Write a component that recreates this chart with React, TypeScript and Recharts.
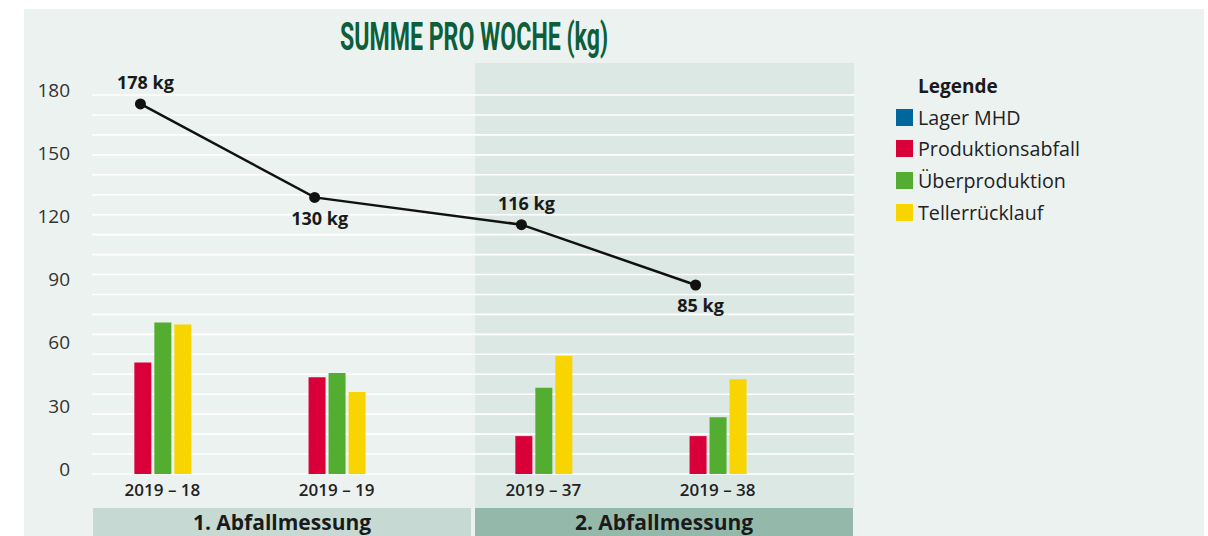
import { ComposedChart, Bar, Line, XAxis, YAxis, CartesianGrid, LabelList } from 'recharts';

// weeks of the two waste measurements
const weeks = ['2019 – 18', '2019 – 19', '2019 – 37', '2019 – 38'];
const measurementOf = [1, 1, 2, 2];
const measurementLabels = ['1. Abfallmessung', '2. Abfallmessung'];

// kg per category (Lager MHD has no values in this chart)
const lagerMhd = [null, null, null, null];
const produktionsabfall = [53, 46, 18, 18];
const ueberproduktion = [72, 48, 41, 27];
const tellerruecklauf = [71, 39, 56, 45];

// weekly total (line)
const totals = [178, 130, 116, 85];
const totalLabelSide = ['above', 'below', 'above', 'below'];

const yTicks = [0, 30, 60, 90, 120, 150, 180];
const GRID_STEPS = 19;

const COLORS = {
  lager: '#00679c',
  prod: '#d9003a',
  ueber: '#52ad31',
  teller: '#f8d400',
};

const series = [
  { key: 'lager', name: 'Lager MHD', color: COLORS.lager },
  { key: 'prod', name: 'Produktionsabfall', color: COLORS.prod },
  { key: 'ueber', name: 'Überproduktion', color: COLORS.ueber },
  { key: 'teller', name: 'Tellerrücklauf', color: COLORS.teller },
];

// layout of the x scale: each measurement gets the same span, in units of one week step
const SPAN = 2.187;
const LEAD = 0.347;
const LINE_SHIFT = 0.069;
const X_DOMAIN: [number, number] = [-LEAD, 2 * SPAN - LEAD];

const data = weeks.map((w, i) => {
  const m = measurementOf[i];
  const inMeasurement = measurementOf.slice(0, i).filter((v) => v === m).length;
  return {
    week: w,
    x: (m - 1) * SPAN + inMeasurement,
    lager: lagerMhd[i],
    prod: produktionsabfall[i],
    ueber: ueberproduktion[i],
    teller: tellerruecklauf[i],
    total: totals[i],
  };
});

const FONT = '"Open Sans", sans-serif';

const YTick = ({ x, y, payload }: any) => (
  <text x={x} y={y - 5} dy="0.355em" textAnchor="end" fontSize={19} fill="#333" fontFamily={FONT}>
    {payload.value}
  </text>
);

const XTick = ({ x, y, payload }: any) => {
  const idx = data.findIndex((d) => Math.abs(d.x - payload.value) < 1e-6);
  return (
    <text x={x + 10} y={y} dy={14} textAnchor="middle" fontSize={17} fontWeight={600} fill="#222" fontFamily={FONT}>
      {idx >= 0 ? weeks[idx] : ''}
    </text>
  );
};

const TotalLabel = ({ x, y, value, index }: any) => {
  const above = totalLabelSide[index] === 'above';
  return (
    <text
      x={x + 5}
      y={above ? y - 21 : y + 21}
      dy="0.355em"
      textAnchor="middle"
      fontSize={18}
      fontWeight={700}
      fill="#1a1a1a"
      fontFamily={FONT}
    >
      {value} kg
    </text>
  );
};

// evenly spaced white rules across the plot, like the original artwork
const gridRows = ({ offset }: any) =>
  Array.from({ length: GRID_STEPS + 1 }, (_, i) => offset.top + (offset.height * i) / GRID_STEPS);

export default function App() {
  return (
    <div style={{ position: 'absolute', left: 0, top: 0, width: 1208, height: 536, background: '#fff', overflow: 'hidden', fontFamily: FONT }}>
      {/* panel background */}
      <div style={{ position: 'absolute', left: 24, top: 9, width: 1180, height: 527, background: '#ecf2f0' }} />
      {/* second measurement shading */}
      <div style={{ position: 'absolute', left: 475, top: 63, width: 379, height: 445, background: '#dce8e4' }} />

      {/* measurement bands */}
      {measurementLabels.map((label, i) => (
        <div
          key={label}
          style={{
            position: 'absolute',
            left: i === 0 ? 93 : 475,
            top: 508,
            width: 378,
            height: 28,
            background: i === 0 ? '#c6dad3' : '#94b9ab',
            display: 'flex',
            alignItems: 'center',
            justifyContent: 'center',
            fontSize: 21,
            fontWeight: 700,
            color: '#1a1a1a',
          }}
        >
          {label}
        </div>
      ))}

      {/* title */}
      <svg style={{ position: 'absolute', left: 0, top: 0 }} width={700} height={62}>
        <text
          x={340}
          y={50}
          textLength={268}
          lengthAdjust="spacingAndGlyphs"
          fontSize={39}
          fontWeight={700}
          fill="#0d5e3b"
          fontFamily="Roboto, sans-serif"
        >
          SUMME PRO WOCHE (kg)
        </text>
      </svg>

      <div style={{ position: 'absolute', left: 0, top: 0 }}>
        <ComposedChart
          width={880}
          height={536}
          data={data}
          margin={{ top: 95, right: 26, bottom: 0, left: 0 }}
          barGap={3}
        >
          <CartesianGrid
            vertical={false}
            stroke="#ffffff"
            strokeWidth={1.6}
            horizontalCoordinatesGenerator={gridRows}
          />
          <XAxis
            xAxisId="main"
            type="number"
            dataKey="x"
            domain={X_DOMAIN}
            ticks={data.map((d) => d.x)}
            axisLine={false}
            tickLine={false}
            tick={<XTick />}
            height={62}
          />
          <XAxis
            xAxisId="line"
            type="number"
            dataKey="x"
            domain={[X_DOMAIN[0] + LINE_SHIFT, X_DOMAIN[1] + LINE_SHIFT]}
            height={0}
            orientation="top"
            hide
          />
          <YAxis
            yAxisId="left"
            domain={[0, 180]}
            ticks={yTicks}
            axisLine={false}
            tickLine={false}
            tickMargin={16}
            tick={<YTick />}
            width={92}
          />
          <YAxis yAxisId="line" domain={[-12.1, 182.6]} orientation="right" width={0} hide />
          {series.map((s) => (
            <Bar
              key={s.key}
              xAxisId="main"
              yAxisId="left"
              dataKey={s.key}
              name={s.name}
              fill={s.color}
              barSize={17}
              isAnimationActive={false}
            />
          ))}
          <Line
            xAxisId="line"
            yAxisId="line"
            dataKey="total"
            stroke="#111"
            strokeWidth={2.5}
            dot={{ r: 5.5, fill: '#111', stroke: '#111', strokeWidth: 0 }}
            activeDot={false}
            isAnimationActive={false}
          >
            <LabelList dataKey="total" content={<TotalLabel />} />
          </Line>
        </ComposedChart>
      </div>

      {/* legend */}
      <div style={{ position: 'absolute', left: 918, top: 73, fontSize: 19, fontWeight: 700, color: '#1a1a1a' }}>Legende</div>
      {series.map((s, i) => (
        <div
          key={s.key}
          style={{
            position: 'absolute',
            left: 896,
            top: 103 + i * 31.7,
            height: 28,
            display: 'flex',
            alignItems: 'center',
            fontSize: 19.7,
            color: '#222',
          }}
        >
          <span style={{ width: 17, height: 17, background: s.color, display: 'inline-block', marginRight: 5 }} />
          {s.name}
        </div>
      ))}
    </div>
  );
}
